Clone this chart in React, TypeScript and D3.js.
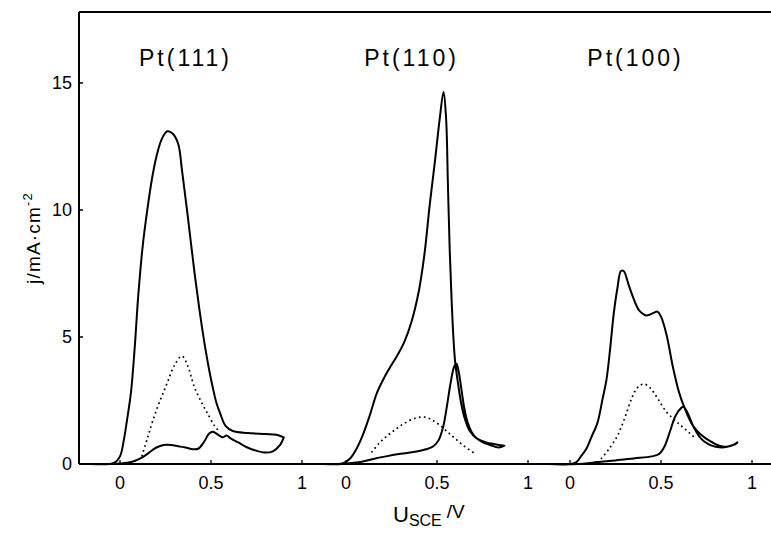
import React from "react";
import * as d3 from "d3";

type P = [number, number];

const panelTitles = ["Pt(111)", "Pt(110)", "Pt(100)"];
const xTicks = [0, 0.5, 1];
const xTickLabels = ["0", "0.5", "1"];
const yTicks = [0, 5, 10, 15];

// Pt(111)
const lower111: P[] = [
  [-0.16, 0], [-0.05, 0], [0, 0.02], [0.04, 0.05], [0.08, 0.12], [0.12, 0.25], [0.16, 0.45],
  [0.2, 0.65], [0.24, 0.75], [0.28, 0.75], [0.32, 0.7], [0.36, 0.65], [0.4, 0.58], [0.43, 0.6],
  [0.46, 0.85], [0.49, 1.2], [0.51, 1.27], [0.54, 1.15], [0.565, 1.05], [0.585, 1.12], [0.61, 1.0],
  [0.65, 0.85], [0.7, 0.65], [0.75, 0.52], [0.8, 0.45], [0.84, 0.5], [0.88, 0.75], [0.9, 1.05],
];
const upper111: P[] = [
  [-0.16, 0], [-0.06, 0], [-0.03, 0.05], [0, 0.3], [0.02, 0.9], [0.04, 1.8], [0.06, 2.8],
  [0.08, 4.5], [0.1, 6.6], [0.125, 8.6], [0.15, 10.0], [0.175, 11.2], [0.2, 12.1], [0.23, 12.8],
  [0.26, 13.1], [0.29, 13.0], [0.32, 12.6], [0.34, 11.6], [0.37, 9.9], [0.41, 7.5], [0.44, 5.9],
  [0.47, 4.5], [0.49, 3.7], [0.51, 3.0], [0.53, 2.4], [0.55, 2.0], [0.58, 1.5], [0.62, 1.3],
  [0.7, 1.22], [0.8, 1.18], [0.86, 1.15], [0.9, 1.05],
];
const dotted111: P[] = [
  [0.12, 0.3], [0.15, 1.0], [0.18, 1.7], [0.22, 2.5], [0.26, 3.2], [0.3, 3.9], [0.34, 4.25],
  [0.37, 3.9], [0.41, 3.0], [0.45, 2.4], [0.48, 2.0], [0.52, 1.5], [0.55, 1.25],
];

// Pt(110)
const lower110: P[] = [
  [-0.12, 0], [0, 0.02], [0.08, 0.08], [0.15, 0.2], [0.22, 0.3], [0.3, 0.4], [0.38, 0.48],
  [0.44, 0.58], [0.48, 0.7], [0.51, 0.95], [0.535, 1.5], [0.555, 2.3], [0.575, 3.2], [0.595, 3.85],
  [0.607, 3.95], [0.62, 3.6], [0.635, 2.9], [0.65, 2.2], [0.67, 1.6], [0.7, 1.15], [0.74, 0.9],
  [0.79, 0.75], [0.84, 0.65], [0.87, 0.72],
];
const upper110: P[] = [
  [-0.12, 0], [-0.02, 0.02], [0.02, 0.2], [0.05, 0.5], [0.09, 1.1], [0.13, 1.9], [0.17, 2.8],
  [0.21, 3.4], [0.25, 3.9], [0.28, 4.25], [0.32, 4.8], [0.36, 5.6], [0.4, 6.8], [0.43, 8.2],
  [0.46, 10.2], [0.49, 12.0], [0.515, 13.6], [0.536, 14.65], [0.55, 13.6], [0.56, 11], [0.57, 8.4],
  [0.58, 6.5], [0.59, 5.0], [0.6, 4.0], [0.615, 3.2], [0.63, 2.5], [0.65, 1.85], [0.68, 1.3],
  [0.72, 1.0], [0.77, 0.85], [0.82, 0.78], [0.87, 0.72],
];
const dotted110: P[] = [
  [0.14, 0.45], [0.18, 0.8], [0.225, 1.1], [0.27, 1.35], [0.32, 1.6], [0.38, 1.8], [0.43, 1.85],
  [0.47, 1.75], [0.52, 1.5], [0.56, 1.25], [0.6, 1.0], [0.65, 0.7], [0.71, 0.4],
];

// Pt(100)
const lower100: P[] = [
  [-0.12, 0], [0.05, 0], [0.1, 0.03], [0.15, 0.08], [0.25, 0.14], [0.35, 0.22], [0.45, 0.3],
  [0.49, 0.4], [0.52, 0.7], [0.55, 1.3], [0.58, 1.9], [0.61, 2.2], [0.625, 2.25], [0.65, 1.95],
  [0.68, 1.45], [0.72, 1.0], [0.76, 0.78], [0.8, 0.68], [0.85, 0.66], [0.9, 0.76], [0.92, 0.85],
];
const upper100: P[] = [
  [-0.12, 0], [0.03, 0.05], [0.06, 0.3], [0.09, 0.6], [0.12, 1.1], [0.15, 1.6], [0.18, 2.6],
  [0.2, 3.3], [0.22, 4.5], [0.24, 5.9], [0.26, 6.9], [0.28, 7.6], [0.295, 7.6], [0.32, 7.1],
  [0.35, 6.5], [0.38, 6.05], [0.42, 5.85], [0.46, 5.95], [0.48, 6.0], [0.5, 5.8], [0.53, 5.1],
  [0.566, 3.8], [0.6, 2.8], [0.63, 2.2], [0.676, 1.5], [0.72, 1.15], [0.77, 0.9], [0.82, 0.72],
  [0.86, 0.68], [0.9, 0.75], [0.92, 0.85],
];
const dotted100: P[] = [
  [0.17, 0.2], [0.21, 0.55], [0.26, 1.1], [0.3, 1.8], [0.34, 2.6], [0.37, 3.0], [0.405, 3.15],
  [0.44, 3.0], [0.48, 2.6], [0.53, 2.05], [0.58, 1.7], [0.62, 1.45], [0.66, 1.2], [0.69, 1.0],
];

const panels = [
  { title: panelTitles[0], lower: lower111, upper: upper111, dotted: dotted111 },
  { title: panelTitles[1], lower: lower110, upper: upper110, dotted: dotted110 },
  { title: panelTitles[2], lower: lower100, upper: upper100, dotted: dotted100 },
];

const W = 771;
const H = 534;
const axisX = 79;
const topY = 12;
const zeroY = 464;
const panelZero = [120, 346, 570];
const pxPerV = 182;
const font = "'Liberation Sans', Arial, sans-serif";

export default function App() {
  const y = d3.scaleLinear().domain([0, 15]).range([zeroY, 83]);
  const xs = panelZero.map((z) =>
    d3.scaleLinear().domain([0, 1]).range([z, z + pxPerV])
  );
  return (
    <svg
      width={W}
      height={H}
      style={{ position: "fixed", top: 0, left: 0, background: "#fff" }}
      fontFamily={font}
    >
      {/* frame */}
      <line x1={axisX} y1={topY} x2={W} y2={topY} stroke="#000" strokeWidth={1.8} />
      <line x1={axisX} y1={topY} x2={axisX} y2={zeroY} stroke="#000" strokeWidth={2} />
      <line x1={axisX} y1={zeroY} x2={W} y2={zeroY} stroke="#000" strokeWidth={2} />
      {/* y ticks */}
      {yTicks.map((t) => (
        <g key={t}>
          {t > 0 && (
            <line x1={axisX} x2={axisX + 4} y1={y(t)} y2={y(t)} stroke="#000" strokeWidth={1.5} />
          )}
          <text x={72} y={y(t)} dy="0.36em" textAnchor="end" fontSize={18}>
            {t}
          </text>
        </g>
      ))}
      <text
        transform={`translate(40,238) rotate(-90)`}
        textAnchor="middle"
        fontSize={19}
        letterSpacing={1.2}
      >
        j/mA·cm<tspan dy={-8} fontSize={13}>-2</tspan>
      </text>
      {panels.map((p, i) => {
        const x = xs[i];
        const line = d3
          .line<P>()
          .x((d) => x(d[0]))
          .y((d) => y(d[1]))
          .curve(d3.curveCatmullRom.alpha(0.5));
        const loop = [...p.lower, ...p.upper.slice().reverse()];
        return (
          <g key={p.title}>
            <text
              x={x(0.36)}
              y={66}
              textAnchor="middle"
              fontSize={23}
              letterSpacing={3}
            >
              {p.title}
            </text>
            {xTicks.map((t, k) => (
              <g key={t}>
                <line x1={x(t)} x2={x(t)} y1={zeroY} y2={zeroY - 4} stroke="#000" strokeWidth={1.3} />
                <text x={x(t)} y={489} textAnchor="middle" fontSize={18}>
                  {xTickLabels[k]}
                </text>
              </g>
            ))}
            <path d={line(loop) || ""} fill="none" stroke="#000" strokeWidth={2} strokeLinejoin="round" />
            <path
              d={line(p.dotted) || ""}
              fill="none"
              stroke="#000"
              strokeWidth={1.7}
              strokeDasharray="1.7,3.3"
            />
          </g>
        );
      })}
      <text x={393} y={522} fontSize={22}>
        U<tspan dy={4} fontSize={16}>SCE</tspan>
        <tspan dy={-8} dx={5} fontSize={19}>/V</tspan>
      </text>
    </svg>
  );
}
